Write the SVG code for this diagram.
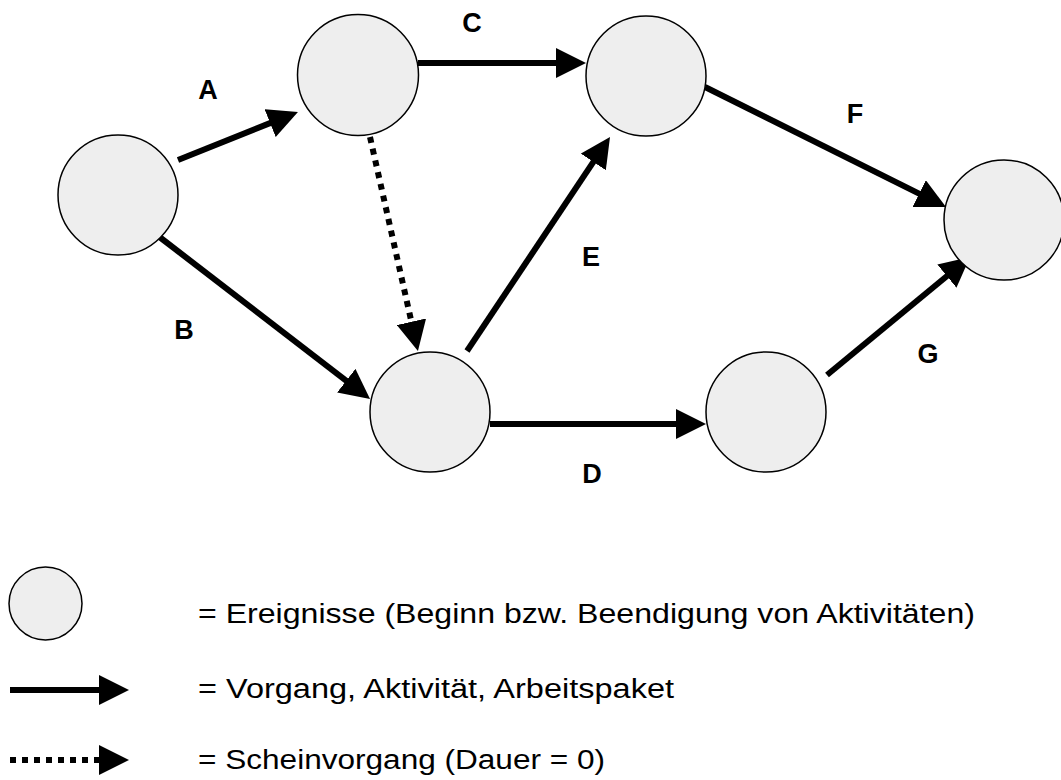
<svg xmlns="http://www.w3.org/2000/svg" width="1061" height="780" viewBox="0 0 1061 780">
<style>
.node{fill:#eeeeee;stroke:#000;stroke-width:1.5}
.act{stroke:#000;stroke-width:6;fill:none;marker-end:url(#head)}
.dummy{stroke:#000;stroke-width:6;fill:none;stroke-dasharray:6 6;marker-end:url(#head)}
.lbl{font-family:"Liberation Sans",Arial,sans-serif;font-weight:bold;font-size:27px;text-anchor:middle;fill:#000}
.leg{font-family:"Liberation Sans",Arial,sans-serif;font-size:27px;fill:#000}
</style>
<defs>
<marker id="head" markerUnits="userSpaceOnUse" markerWidth="30" markerHeight="30" viewBox="0 0 30 30" refX="10" refY="15" orient="auto">
<path d="M0,0 L30,15 L0,30 z" fill="#000"/>
</marker>
</defs>
<rect width="1061" height="780" fill="#fff"/>
<g id="connectors">
<line id="A" class="act" x1="178" y1="160" x2="279.4" y2="119.4"/>
<line id="B" class="act" x1="153" y1="232" x2="354.2" y2="386.8"/>
<line id="C" class="act" x1="418" y1="63" x2="566" y2="63"/>
<line id="dummy" class="dummy" x1="370" y1="137" x2="413.6" y2="331.5"/>
<line id="D" class="act" x1="490" y1="424" x2="686" y2="424"/>
<line id="E" class="act" x1="467" y1="351" x2="598.9" y2="153.6"/>
<line id="F" class="act" x1="705" y1="87" x2="928.1" y2="198.1"/>
<line id="G" class="act" x1="827" y1="375" x2="954.6" y2="269.7"/>
</g>
<g id="n1"><circle class="node" cx="118" cy="195" r="60"/></g>
<g id="n2"><circle class="node" cx="358" cy="75" r="60.5"/></g>
<g id="n3"><circle class="node" cx="646" cy="76" r="60"/></g>
<g id="n4"><circle class="node" cx="1004" cy="220" r="60"/></g>
<g id="n5"><circle class="node" cx="430" cy="412" r="60"/></g>
<g id="n6"><circle class="node" cx="766" cy="412" r="60"/></g>
<g id="labels">
<text class="lbl" x="208" y="99">A</text>
<text class="lbl" x="184" y="339">B</text>
<text class="lbl" x="472" y="32">C</text>
<text class="lbl" x="592" y="483">D</text>
<text class="lbl" x="591" y="266">E</text>
<text class="lbl" x="855" y="123">F</text>
<text class="lbl" x="928" y="363">G</text>
</g>
<g id="legend">
<circle class="node" cx="45.5" cy="603.5" r="36.5"/>
<line class="act" x1="10" y1="690" x2="109" y2="690"/>
<line class="dummy" x1="10" y1="760" x2="109" y2="760"/>
<text class="leg" x="198" y="623" textLength="777" lengthAdjust="spacingAndGlyphs">= Ereignisse (Beginn bzw. Beendigung von Aktivitäten)</text>
<text class="leg" x="198" y="698" textLength="476" lengthAdjust="spacingAndGlyphs">= Vorgang, Aktivität, Arbeitspaket</text>
<text class="leg" x="198" y="769" textLength="407" lengthAdjust="spacingAndGlyphs">= Scheinvorgang (Dauer = 0)</text>
</g>
</svg>
